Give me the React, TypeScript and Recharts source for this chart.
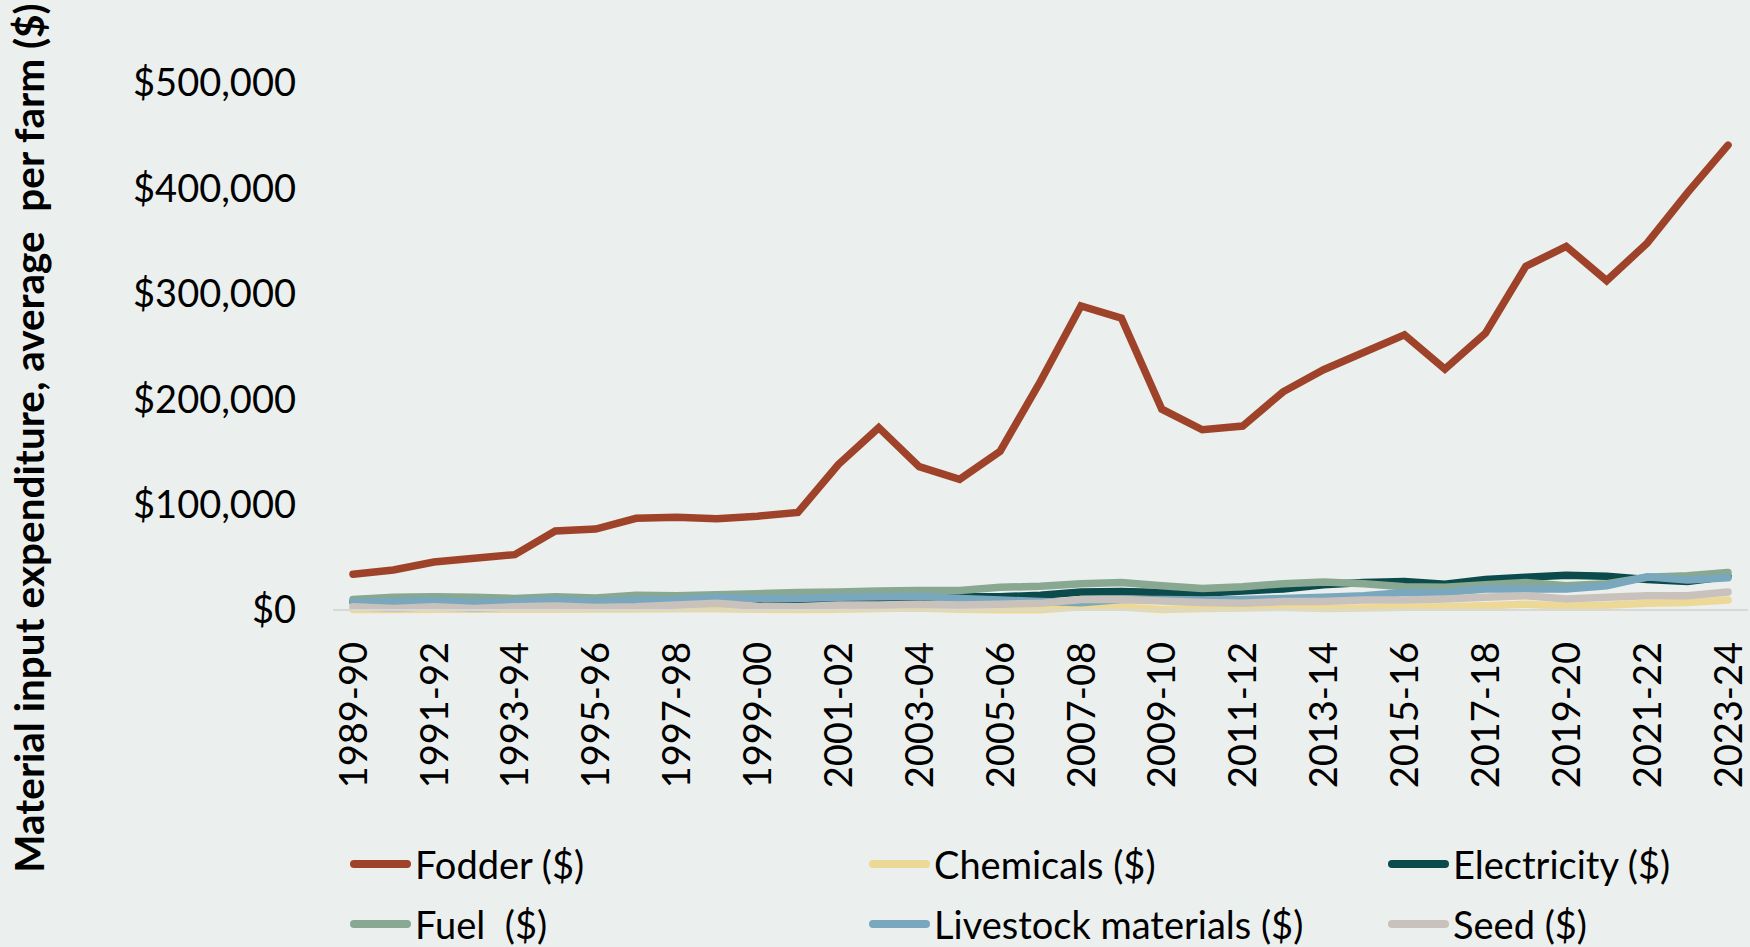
import React from 'react';
import { LineChart, Line, XAxis, YAxis, Legend } from 'recharts';

const categories = [
  '1989-90', '1990-91', '1991-92', '1992-93', '1993-94', '1994-95', '1995-96', '1996-97', '1997-98', '1998-99',
  '1999-00', '2000-01', '2001-02', '2002-03', '2003-04', '2004-05', '2005-06', '2006-07', '2007-08', '2008-09',
  '2009-10', '2010-11', '2011-12', '2012-13', '2013-14', '2014-15', '2015-16', '2016-17', '2017-18', '2018-19',
  '2019-20', '2020-21', '2021-22', '2022-23', '2023-24',
];

const fodder = [
  34000, 38000, 45500, 49000, 52500, 75000, 76800, 87000, 88000, 86500,
  89000, 92500, 138000, 173000, 136000, 124000, 150500, 217000, 288500, 277000,
  190500, 171000, 174500, 207000, 228000, 244500, 261000, 228500, 262500, 326000,
  345000, 312500, 348000, 396000, 441000,
];
const chemicals = [
  500, 500, 800, 600, 700, 800, 900, 1000, 1200, 1300,
  800, 500, 800, 1500, 2000, 600, 300, 300, 3000, 2800,
  500, 1500, 2000, 2500, 1500, 2000, 2500, 3000, 4000, 5500,
  3500, 4500, 6300, 7000, 9500,
];
const electricity = [
  8000, 7000, 7500, 7000, 7500, 8000, 8000, 8500, 9000, 9500,
  8500, 8000, 8000, 9500, 11000, 12500, 12500, 14000, 17000, 17500,
  16500, 16000, 18000, 20000, 24000, 26000, 27000, 24500, 29000, 31000,
  33000, 32000, 29000, 27000, 32000,
];
const fuel = [
  10000, 12000, 12500, 12000, 11000, 12500, 11500, 14000, 13500, 14500,
  15500, 16500, 17000, 18000, 18500, 18500, 21500, 22500, 25000, 26000,
  23000, 20500, 22000, 25000, 26500, 25000, 22000, 21500, 24000, 26000,
  23000, 25000, 31000, 32500, 35500,
];
const livestock = [
  7000, 8000, 9000, 7000, 8000, 9500, 8000, 9500, 10000, 12000,
  11000, 11000, 12000, 12500, 13000, 11000, 9500, 8000, 7000, 10000,
  10000, 9500, 10000, 11000, 12000, 13500, 16500, 16500, 20000, 20000,
  20000, 23000, 31500, 28500, 30500,
];
const seed = [
  3000, 1500, 3000, 1500, 3000, 3800, 2300, 3000, 4700, 6500,
  3500, 3000, 4700, 4700, 5500, 4700, 5500, 6300, 10000, 10000,
  8500, 7000, 6300, 8000, 8000, 9500, 9500, 10500, 12000, 13500,
  10500, 12000, 13500, 13500, 17000,
];

const seriesNames = ['Fodder ($)', 'Chemicals ($)', 'Electricity ($)', 'Fuel  ($)', 'Livestock materials ($)', 'Seed ($)'];
const seriesKeys = ['fodder', 'chemicals', 'electricity', 'fuel', 'livestock', 'seed'];
const seriesColors = ['#9E432A', '#EDD997', '#0C4B4C', '#88A892', '#79A7BD', '#C9C2BC'];
const seriesValues = [fodder, chemicals, electricity, fuel, livestock, seed];

const yTicks = [0, 100000, 200000, 300000, 400000, 500000];
const yTitle = 'Material input expenditure, average  per farm ($)';

const data = categories.map((c, i) => {
  const row: Record<string, string | number> = { category: c };
  seriesKeys.forEach((k, j) => {
    row[k] = seriesValues[j][i];
  });
  return row;
});

const FONT = 'Lato, "Open Sans", sans-serif';
const BG = '#EBEFED';

const fmt = (v: number) => '$' + v.toLocaleString('en-US');

const XTick = (props: any) => {
  const { x, y, payload } = props;
  const ty = y + 32;
  return (
    <text
      x={x}
      y={ty}
      transform={`rotate(-90, ${x}, ${ty})`}
      textAnchor="end"
      dy="0.36em"
      fontSize={38}
      fontFamily={FONT}
      fill="#000"
    >
      {payload.value}
    </text>
  );
};

const YTitle = () => (
  <text
    x={44}
    y={438}
    transform="rotate(-90, 44, 438)"
    textAnchor="middle"
    fontSize={40.5}
    fontWeight="bold"
    fontFamily={FONT}
    fill="#000"
    style={{ whiteSpace: 'pre' }}
  >
    {yTitle}
  </text>
);

const LegendContent = (props: any) => {
  const payload = [...(props.payload || [])].sort(
    (a: any, b: any) => seriesNames.indexOf(a.value) - seriesNames.indexOf(b.value),
  );
  return (
    <div style={{ position: 'relative', width: 1750, height: 117 }}>
      {payload.map((e: any, i: number) => {
        const col = i % 3;
        const row = Math.floor(i / 3);
        const left = 349 + col * 519;
        const center = 34 + row * 60;
        return (
          <div
            key={e.value}
            style={{
              position: 'absolute',
              left,
              top: center - 25,
              height: 50,
              display: 'flex',
              alignItems: 'center',
              whiteSpace: 'pre',
            }}
          >
            <svg width={62} height={12} style={{ display: 'block' }}>
              <line x1={5} y1={6} x2={58} y2={6} stroke={e.color} strokeWidth={8} strokeLinecap="round" />
            </svg>
            <span style={{ marginLeft: 4, fontFamily: FONT, fontSize: 38, color: '#000', lineHeight: '50px' }}>
              {e.value}
            </span>
          </div>
        );
      })}
    </div>
  );
};

export default function App() {
  return (
    <div style={{ position: 'absolute', left: 0, top: 0, width: 1750, height: 947, background: BG, overflow: 'hidden' }}>
      <LineChart width={1750} height={947} data={data} margin={{ top: 83, right: 2, left: 0, bottom: 0 }}>
        <XAxis
          dataKey="category"
          interval={1}
          height={337}
          padding={{ left: 20, right: 20 }}
          tickSize={0}
          tickMargin={0}
          tickLine={false}
          axisLine={{ stroke: '#D6D9D8', strokeWidth: 2 }}
          tick={<XTick />}
        />
        <YAxis
          width={333}
          domain={[0, 500000]}
          ticks={yTicks}
          tickFormatter={fmt}
          axisLine={false}
          tickLine={false}
          tickSize={0}
          tickMargin={37}
          tick={{ fontSize: 38, fontFamily: FONT, fill: '#000' }}
          label={<YTitle />}
        />
        <Legend
          layout="vertical"
          align="center"
          verticalAlign="middle"
          itemSorter={null as any}
          wrapperStyle={{ left: 0, top: 830, width: 1750, height: 117 }}
          content={<LegendContent />}
        />
        {seriesKeys.map((k, j) => (
          <Line
            key={k}
            type="linear"
            dataKey={k}
            name={seriesNames[j]}
            stroke={seriesColors[j]}
            strokeWidth={7.5}
            strokeLinecap="round"
            strokeLinejoin="miter"
            dot={false}
            activeDot={false}
            isAnimationActive={false}
          />
        ))}
      </LineChart>
    </div>
  );
}
